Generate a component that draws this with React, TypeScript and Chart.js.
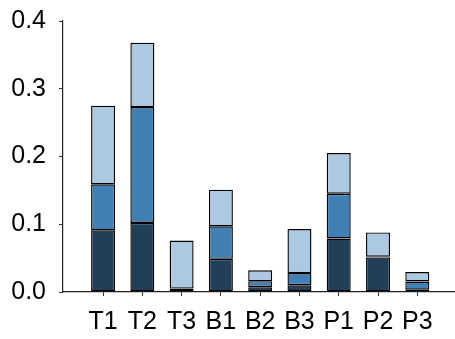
import React, { useEffect, useRef } from "react";
import { Chart, registerables } from "chart.js";

Chart.register(...registerables);

const categories = ["T1", "T2", "T3", "B1", "B2", "B3", "P1", "P2", "P3"];
const darkValues = [0.091, 0.102, 0.001, 0.049, 0.007, 0.010, 0.079, 0.051, 0.0035];
const mediumValues = [0.068, 0.171, 0.004, 0.048, 0.009, 0.018, 0.066, 0.001, 0.012];
const lightValues = [0.116, 0.095, 0.071, 0.054, 0.016, 0.065, 0.060, 0.036, 0.014];
const yTicks = [0, 0.1, 0.2, 0.3, 0.4];

const FONT = "'Liberation Sans', Arial, sans-serif";

export default function App() {
  const ref = useRef<HTMLCanvasElement | null>(null);
  useEffect(() => {
    if (!ref.current) return;
    const toPts = (arr: number[]) => arr.map((v, i) => ({ x: i, y: v }));
    const common = {
      borderColor: "#000000",
      borderWidth: 1.4,
      borderSkipped: false as const,
      barPercentage: 0.61,
      categoryPercentage: 1,
      stack: "s",
    };
    const chart = new Chart(ref.current, {
      type: "bar",
      data: {
        datasets: [
          { label: "dark", data: toPts(darkValues), backgroundColor: "#223f5a", ...common },
          { label: "medium", data: toPts(mediumValues), backgroundColor: "#4180b5", ...common },
          { label: "light", data: toPts(lightValues), backgroundColor: "#adc9e1", ...common },
        ],
      },
      options: {
        animation: false,
        responsive: false,
        maintainAspectRatio: false,
        layout: { padding: { top: 21, right: 0, bottom: 0, left: 0 } },
        plugins: { legend: { display: false }, tooltip: { enabled: false } },
        scales: {
          x: {
            type: "linear",
            stacked: true,
            offset: false,
            bounds: "data",
            min: -1.02,
            max: 8.96,
            afterBuildTicks: (scale: any) => {
              scale.ticks = categories.map((_, i) => ({ value: i }));
            },
            afterFit: (scale: any) => {
              scale.height = 47;
              scale.paddingLeft = 0;
              scale.paddingRight = 0;
            },
            ticks: {
              autoSkip: false,
              maxRotation: 0,
              padding: 11,
              color: "#000000",
              font: { family: FONT, size: 25 },
              callback: (v: any) => categories[Math.round(Number(v))] ?? "",
            },
            grid: {
              display: true,
              drawOnChartArea: false,
              drawTicks: true,
              tickLength: 4,
              tickColor: "#333333",
              offset: false,
            },
            border: { display: true, color: "#222222", width: 1.2 },
          },
          y: {
            stacked: true,
            min: 0,
            max: 0.4,
            afterBuildTicks: (scale: any) => {
              scale.ticks = yTicks.map((v) => ({ value: v }));
            },
            afterFit: (scale: any) => {
              scale.width = 63;
              scale.paddingTop = 0;
              scale.paddingBottom = 0;
            },
            ticks: {
              padding: 13,
              color: "#000000",
              font: { family: FONT, size: 25 },
              callback: (v: any) => Number(v).toFixed(1),
            },
            grid: {
              display: true,
              drawOnChartArea: false,
              drawTicks: true,
              tickLength: 4,
              tickColor: "#333333",
            },
            border: { display: true, color: "#222222", width: 1.2 },
          },
        },
      },
    });
    return () => chart.destroy();
  }, []);
  return (
    <div style={{ position: "fixed", left: 0, top: 0, width: 455, height: 339, background: "#fff" }}>
      <canvas ref={ref} width={455} height={339} style={{ display: "block", width: 455, height: 339 }} />
    </div>
  );
}
